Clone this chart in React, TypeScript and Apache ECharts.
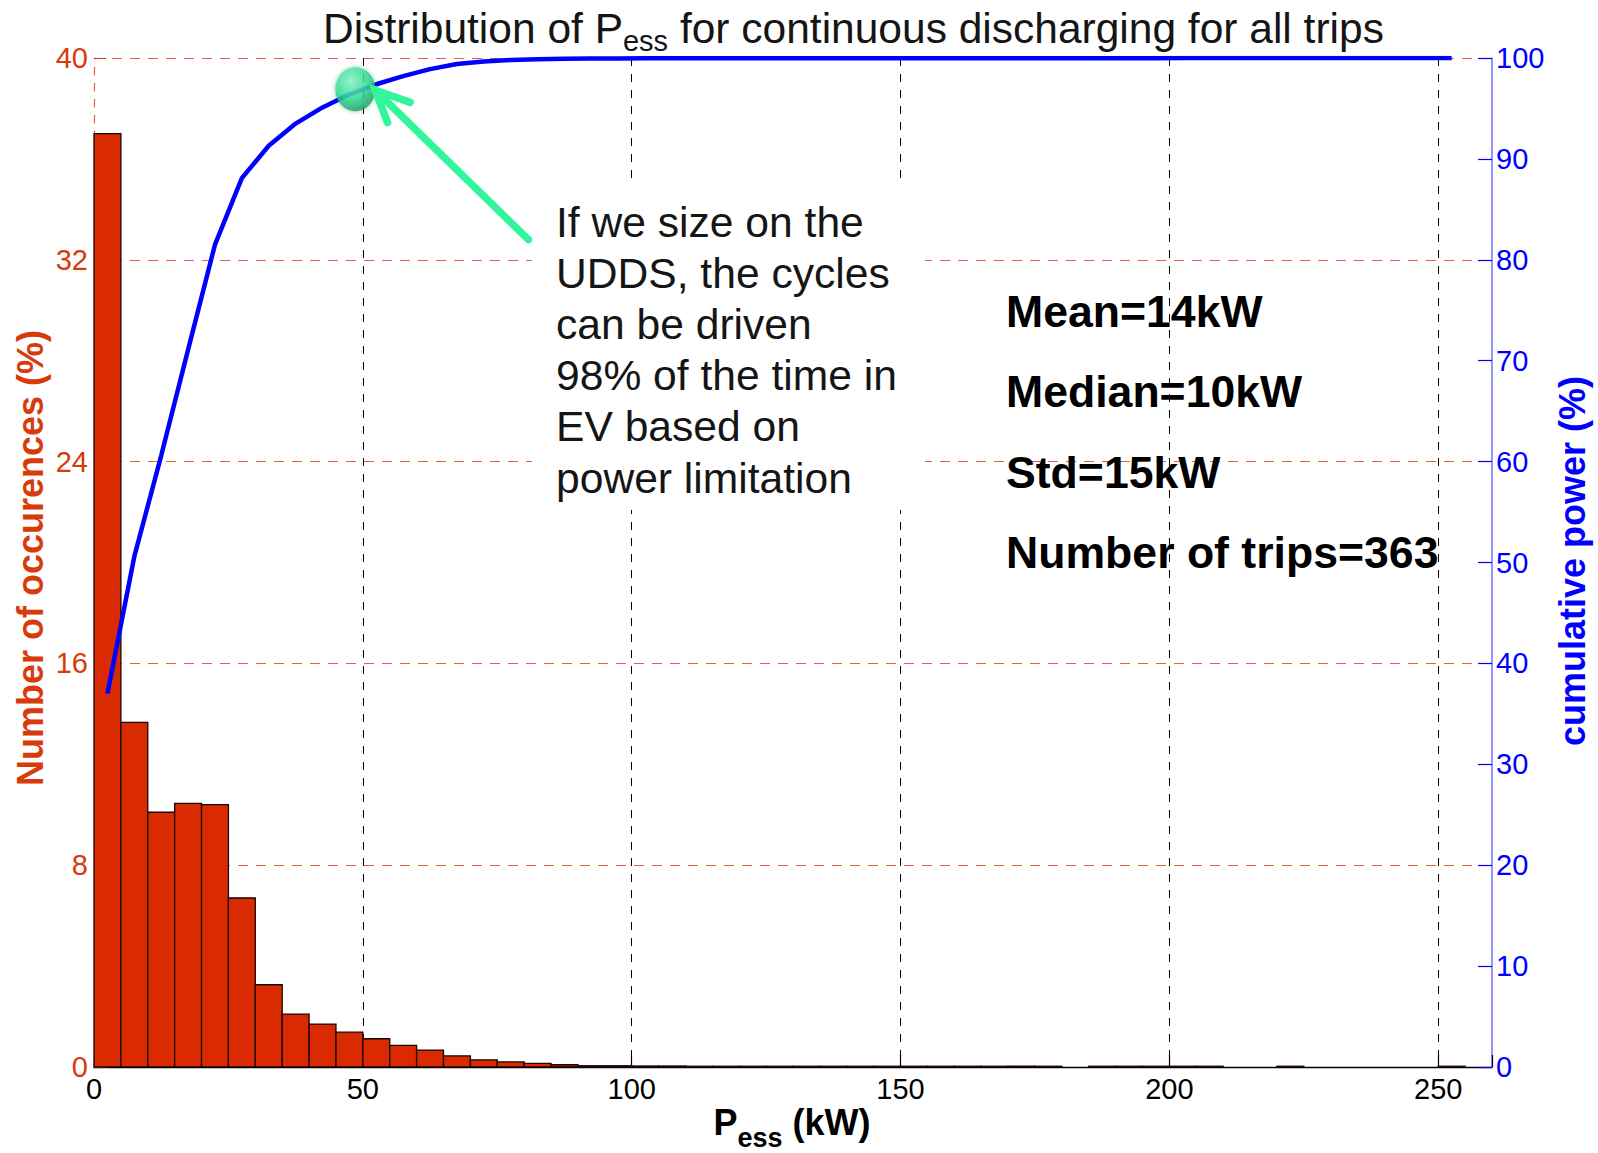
import React, { useEffect, useRef } from "react";
import * as echarts from "echarts";

const FONT = '"Liberation Sans", Arial, Helvetica, sans-serif';

// Histogram bin edges (kW) and occurrences (%)
const binEdges = [
  0, 5, 10, 15, 20, 25, 30, 35, 40, 45, 50, 55, 60, 65, 70, 75, 80, 85, 90, 95,
  100, 105, 110, 115, 120, 125, 130, 135, 140, 145, 150, 155, 160, 165, 170, 175,
  180, 185, 190, 195, 200, 205, 210, 215, 220, 225, 230, 235, 240, 245, 250, 255,
];
const occurrences = [
  37.0, 13.66, 10.1, 10.45, 10.4, 6.7, 3.26, 2.1, 1.7, 1.38,
  1.12, 0.86, 0.67, 0.44, 0.28, 0.2, 0.14, 0.09, 0.05, 0.05,
  0.04, 0.04, 0.03, 0.03, 0.03, 0.03, 0.03, 0.03, 0.03, 0.03,
  0.03, 0.03, 0.03, 0.03, 0.03, 0.03, 0, 0.03, 0.03, 0.03,
  0.03, 0.03, 0, 0, 0.03, 0, 0, 0, 0, 0,
  0.03,
];

// Cumulative power curve (bin centres, %)
const cumulativeX = [
  2.5, 7.5, 12.5, 17.5, 22.5, 27.5, 32.5, 37.5, 42.5, 47.5,
  52.5, 57.5, 62.5, 67.5, 72.5, 77.5, 82.5, 87.5, 92.5, 97.5,
  102.5, 107.5, 112.5, 117.5, 122.5, 127.5, 132.5, 137.5, 142.5, 147.5,
  152.5, 157.5, 162.5, 167.5, 172.5, 177.5, 182.5, 187.5, 192.5, 197.5,
  202.5, 207.5, 212.5, 217.5, 222.5, 227.5, 232.5, 237.5, 242.5, 247.5,
  252.5,
];
const cumulativePower = [
  37.0, 50.6, 60.6, 71.1, 81.5, 88.1, 91.3, 93.5, 95.1, 96.4,
  97.4, 98.2, 98.9, 99.4, 99.65, 99.8, 99.88, 99.93, 99.95, 99.96,
  99.97, 99.97, 99.97, 99.97, 99.97, 99.97, 99.97, 99.97, 99.97, 99.97,
  99.98, 99.98, 99.98, 99.98, 99.98, 99.98, 99.98, 99.98, 99.98, 99.98,
  99.99, 99.99, 99.99, 99.99, 99.99, 99.99, 99.99, 99.99, 99.99, 99.99,
  100,
];

// Highlighted point (kW, cumulative %)
const highlightPoint = [48.6, 96.9];
// Arrow annotation in data coordinates (kW, cumulative %)
const arrowTail = [80.8, 82.0];
const arrowHead = [52.3, 96.8];
const arrowWingA = [58.8, 95.6];
const arrowWingB = [54.6, 93.6];

const xTickMax = 260;
const annotationText = [
  "If we size on the",
  "UDDS, the cycles",
  "can be driven",
  "98% of the time in",
  "EV based on",
  "power limitation",
];
const statsText = ["Mean=14kW", "Median=10kW", "Std=15kW", "Number of trips=363"];

const BAR_COLOR = "#D92A02";
const RED_TEXT = "#D83A0A";
const BLUE = "#0000FF";
const GREEN = "#33F59A";

export default function App() {
  const ref = useRef<HTMLDivElement>(null);

  useEffect(() => {
    if (!ref.current) return;
    const chart = echarts.init(ref.current, null, { renderer: "svg" });

    const histData = occurrences.map((v, i) => [binEdges[i], binEdges[i + 1], v]);
    const lineData = cumulativeX.map((x, i) => [x, cumulativePower[i]]);

    chart.setOption({
      animation: false,
      backgroundColor: "#ffffff",
      title: {
        text: "{t|Distribution of P}{s|ess}{t| for continuous discharging for all trips}",
        left: 318,
        top: 2,
        textStyle: {
          fontWeight: "normal",
          rich: {
            t: { fontSize: 42.5, fontWeight: "normal", fontFamily: FONT, color: "#151515", lineHeight: 42 },
            s: {
              fontSize: 29,
              fontWeight: "normal",
              fontFamily: FONT,
              color: "#151515",
              height: 16,
              lineHeight: 16,
              verticalAlign: "bottom",
            },
          },
        },
      },
      grid: { left: 94, right: 106, top: 58, bottom: 86, containLabel: false },
      xAxis: {
        type: "value",
        min: 0,
        max: xTickMax,
        interval: 50,
        axisLine: { show: true, lineStyle: { color: "#000", width: 1.3 } },
        axisTick: { show: true, inside: true, length: 12, lineStyle: { color: "#000", width: 1.2 } },
        axisLabel: {
          color: "#000",
          fontSize: 29,
          fontFamily: FONT,
          margin: 7,
          formatter: (v: number) => (v % 50 === 0 ? String(v) : ""),
        },
        splitLine: {
          show: true,
          showMinLine: false,
          showMaxLine: false,
          lineStyle: { color: "#000", type: [8, 8], width: 1 },
        },
      },
      yAxis: [
        {
          type: "value",
          position: "left",
          min: 0,
          max: 40,
          interval: 8,
          axisLine: { show: true, lineStyle: { color: "#E0664A", width: 1.2, type: [8, 8] } },
          axisTick: { show: true, inside: true, length: 12, lineStyle: { color: "#D83A0A" } },
          axisLabel: { color: RED_TEXT, fontSize: 29, fontFamily: FONT, margin: 6 },
          splitLine: {
            show: true,
            showMinLine: false,
            lineStyle: { color: "#E8603C", type: [10, 8], width: 1.2 },
          },
        },
        {
          type: "value",
          position: "right",
          min: 0,
          max: 100,
          interval: 10,
          axisLine: { show: true, lineStyle: { color: "#7B7BFF", width: 1.6 } },
          axisTick: { show: true, inside: true, length: 14, lineStyle: { color: BLUE, width: 1.2 } },
          axisLabel: { color: BLUE, fontSize: 29, fontFamily: FONT, margin: 4 },
          splitLine: { show: false },
        },
      ],
      series: [
        {
          type: "custom",
          name: "occurrences",
          xAxisIndex: 0,
          yAxisIndex: 0,
          z: 2,
          encode: { x: [0, 1], y: 2 },
          data: histData,
          renderItem: (params: any, api: any) => {
            const x0 = api.value(0);
            const x1 = api.value(1);
            const v = api.value(2);
            if (!v) return null;
            const p0 = api.coord([x0, v]);
            const p1 = api.coord([x1, 0]);
            return {
              type: "rect",
              shape: { x: p0[0], y: p0[1], width: p1[0] - p0[0], height: p1[1] - p0[1] },
              style: { fill: BAR_COLOR, stroke: "#1a0500", lineWidth: 1.3 },
            };
          },
        },
        {
          type: "line",
          name: "cumulative power",
          xAxisIndex: 0,
          yAxisIndex: 1,
          z: 4,
          data: lineData,
          showSymbol: false,
          lineStyle: { color: BLUE, width: 4.5 },
        },
        {
          type: "scatter",
          name: "highlight",
          xAxisIndex: 0,
          yAxisIndex: 1,
          z: 6,
          data: [highlightPoint],
          symbol: "circle",
          symbolSize: [40, 44],
          itemStyle: {
            color: new echarts.graphic.RadialGradient(0.4, 0.32, 0.75, [
              { offset: 0, color: "#8CF9CF" },
              { offset: 0.55, color: "#30E093" },
              { offset: 1, color: "#17935A" },
            ]),
            shadowBlur: 5,
            shadowColor: "rgba(10,90,50,0.45)",
          },
        },
      ],
    });

    const toPx = (p: number[]) =>
      chart.convertToPixel({ xAxisIndex: 0, yAxisIndex: 1 }, p) as number[];
    const tail = toPx(arrowTail);
    const head = toPx(arrowHead);
    const wa = toPx(arrowWingA);
    const wb = toPx(arrowWingB);

    chart.setOption({
      graphic: [
        {
          type: "rect",
          z: 1,
          shape: { x: 532, y: 183, width: 393, height: 327 },
          style: { fill: "#ffffff" },
        },
        {
          type: "text",
          z: 5,
          x: 556,
          y: 196,
          style: {
            text: annotationText.join("\n"),
            fontSize: 42.6,
            fontFamily: FONT,
            fill: "#151515",
            lineHeight: 51.2,
            align: "left",
            verticalAlign: "top",
          },
        },
        {
          type: "text",
          z: 5,
          x: 1006,
          y: 271,
          style: {
            text: statsText.join("\n"),
            fontSize: 44.6,
            fontWeight: "bold",
            fontFamily: FONT,
            fill: "#000",
            lineHeight: 80.5,
            align: "left",
            verticalAlign: "top",
          },
        },
        {
          type: "text",
          z: 5,
          x: 30,
          y: 558,
          rotation: Math.PI / 2,
          style: {
            text: "Number of occurences (%)",
            fontSize: 36,
            fontWeight: "bold",
            fontFamily: FONT,
            fill: RED_TEXT,
            align: "center",
            verticalAlign: "middle",
          },
        },
        {
          type: "text",
          z: 5,
          x: 1572,
          y: 561,
          rotation: Math.PI / 2,
          style: {
            text: "cumulative power (%)",
            fontSize: 36,
            fontWeight: "bold",
            fontFamily: FONT,
            fill: BLUE,
            align: "center",
            verticalAlign: "middle",
          },
        },
        {
          type: "text",
          z: 5,
          x: 792,
          y: 1104,
          style: {
            text: "{p|P}{s|ess}{p| (kW)}",
            align: "center",
            verticalAlign: "top",
            rich: {
              p: { fontSize: 36, fontWeight: "bold", fontFamily: FONT, fill: "#000", lineHeight: 36 },
              s: {
                fontSize: 27,
                fontWeight: "bold",
                fontFamily: FONT,
                fill: "#000",
                height: 4,
                lineHeight: 4,
                verticalAlign: "bottom",
              },
            },
          },
        },
        {
          type: "polyline",
          z: 7,
          shape: { points: [tail, head] },
          style: { stroke: GREEN, lineWidth: 7.5, lineCap: "round", fill: null },
        },
        {
          type: "polyline",
          z: 7,
          shape: { points: [wa, head, wb] },
          style: { stroke: GREEN, lineWidth: 7.5, lineCap: "round", lineJoin: "miter", fill: null },
        },
      ],
    });

    return () => chart.dispose();
  }, []);

  return (
    <div
      ref={ref}
      style={{ position: "fixed", left: 0, top: 0, width: 1598, height: 1153, background: "#fff" }}
    />
  );
}
